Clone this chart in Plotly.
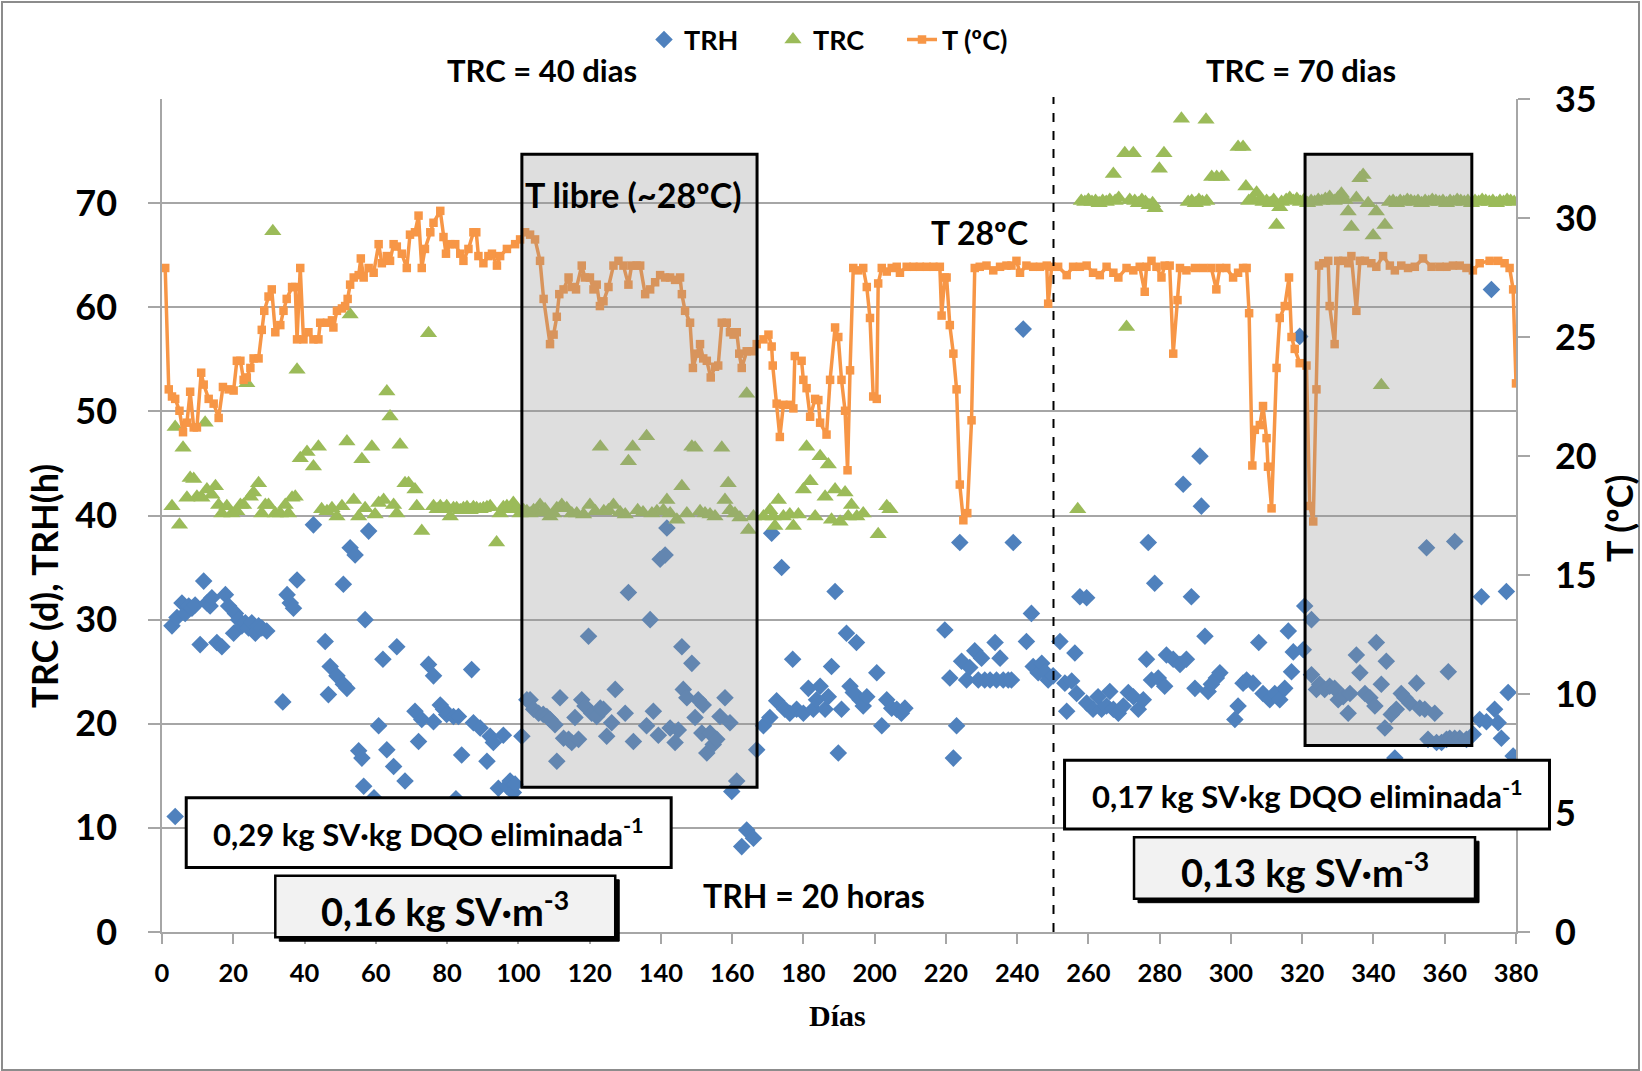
import plotly.graph_objects as go

# ---------------- DATA ----------------
# TRH (h) - blue diamonds
trh_day = [2.8, 3.7, 4.2, 5.6, 6.5, 7.5, 8.4, 9.3, 10.7, 11.7, 12.6, 13.5, 14.0, 15.4, 16.8, 17.8, 18.7,
           20.1, 20.6, 21.5, 22.4, 23.4, 24.3, 25.2, 26.2, 27.1, 28.0, 29.4, 33.9, 35.1, 36.0, 36.9, 37.9,
           42.5, 45.8, 46.7, 47.2, 49.1, 50.9, 50.9, 51.9, 52.8, 54.2, 55.2, 56.1, 56.6, 57.0, 58.0, 59.5,
           60.8, 62.0, 63.1, 65.0, 65.9, 68.2, 71.0, 72.0, 72.9, 74.8, 76.2, 76.2, 78.1, 79.0, 79.9, 81.8,
           82.5, 83.2, 84.1, 86.9, 87.4, 89.3, 91.2, 92.1, 93.0, 94.4, 95.8, 96.8, 97.7, 98.6, 99.1,
           101.0, 102.4, 103.3, 104.3, 105.7, 107.0, 108.0, 108.9, 110.3, 110.8, 111.7, 112.7, 114.1, 115.0,
           115.9, 116.9, 117.8, 118.7, 119.7, 120.6, 122.0, 123.0, 123.9, 124.8, 126.2, 127.2, 130.0, 130.9,
           132.3, 136.0, 137.0, 137.9, 139.3, 139.8, 141.2, 141.7, 142.6, 144.0, 144.9, 145.9, 146.3, 147.3,
           148.7, 149.6, 150.5, 151.5, 151.9, 152.9, 153.8, 154.7, 155.7, 156.6, 158.0, 159.4, 159.9, 161.3,
           162.7, 164.1, 166.0, 166.9, 168.8, 170.6, 171.1, 172.5, 173.9, 174.8, 176.2, 177.0, 178.1, 180.0,
           181.4, 182.8, 183.7, 184.7, 186.1, 187.0, 187.9, 188.9, 189.8, 190.7, 192.1, 193.1, 194.0, 194.9,
           195.9, 196.8, 197.8, 200.6, 202.0, 203.4, 204.8, 206.2, 207.5, 208.5,
           219.7, 221.1, 222.1, 223.0, 223.9, 224.4, 225.8, 226.7, 228.1, 229.1, 230.0, 230.9, 232.4, 233.8,
           234.2, 235.2, 236.1, 237.5, 238.4, 238.9, 241.7, 242.6, 244.0, 244.5, 245.9, 246.9, 247.8, 248.7,
           250.1, 252.0, 253.4, 253.9, 255.3, 256.2, 256.7, 257.6, 259.5, 259.5, 261.3, 262.7, 263.7, 265.1,
           266.0, 267.0, 268.4, 269.8, 271.2, 272.6, 274.0, 275.4, 276.3, 276.8, 277.7, 278.6, 279.6, 281.4,
           281.9, 283.8, 285.7, 286.6, 287.5, 288.9, 289.9, 291.3, 291.7, 292.7, 293.6, 294.5, 295.9, 296.9,
           301.1, 302.0, 303.4, 304.4, 306.2, 307.8, 309.0, 310.9, 312.3, 313.7, 315.1, 316.1, 317.0, 317.5,
           319.3, 320.3, 320.7, 322.6, 322.6, 324.0, 324.9, 326.3, 327.7, 329.1, 330.1, 331.5, 332.9, 333.4,
           335.2, 336.2, 337.6, 339.0, 340.4, 340.8, 342.2, 343.2, 343.6, 345.0, 346.0, 346.4, 347.8, 348.8,
           350.2, 352.1, 353.0, 354.4, 354.9, 355.3, 357.2, 357.7, 359.1, 360.5, 361.0, 361.4, 362.8, 362.8,
           364.2, 366.1, 368.0, 369.8, 370.3, 371.7, 373.1, 374.0, 375.0, 375.9, 377.3, 377.8, 379.2]
trh_val = [29.4, 11.1, 30.2, 31.6, 30.6, 31.3, 31.1, 31.4, 27.6, 33.7, 31.6, 31.3, 32.1, 27.8, 27.4, 32.4, 31.3,
           28.7, 30.6, 30.0, 29.4, 29.7, 29.2, 29.7, 28.7, 29.4, 29.2, 28.9, 22.1, 32.4, 31.6, 31.1, 33.8,
           39.1, 27.9, 22.8, 25.5, 24.6, 33.4, 23.8, 23.4, 36.9, 36.2, 17.4, 16.7, 14.0, 30.0, 38.5, 12.9,
           19.8, 26.2, 17.5, 15.9, 27.4, 14.5, 21.2, 18.3, 20.4, 25.7, 24.6, 20.2, 21.8, 21.4, 20.9, 20.7,
           12.8, 20.7, 17.0, 25.2, 20.1, 19.6, 16.4, 18.8, 18.2, 13.8, 18.9, 14.0, 14.5, 13.4, 14.2,
           18.8, 22.3, 22.3, 21.4, 21.0, 20.9, 20.7, 20.4, 19.9, 16.4, 22.5, 18.6, 18.5, 18.2,
           20.6, 18.5, 22.3, 21.7, 28.4, 21.0, 20.7, 21.5, 21.4, 18.8, 20.1, 23.3, 21.0, 32.6,
           18.3, 19.8, 30.0, 21.2, 18.9, 35.8, 36.2, 38.8, 19.6, 18.2, 19.4, 27.4, 23.3, 22.5,
           25.8, 20.6, 22.3, 19.1, 21.8, 17.2, 19.1, 18.0, 18.5, 20.7, 22.5, 20.1, 13.5, 14.5,
           8.2, 9.8, 9.0, 17.5, 19.8, 20.6, 38.3, 22.2, 35.0, 21.4, 21.0, 26.2, 21.4, 21.0,
           23.4, 21.4, 22.3, 23.6, 21.4, 22.6, 25.5, 32.7, 17.2, 21.4, 28.7, 23.6, 23.0, 27.8,
           22.3, 21.7, 22.6, 24.9, 19.8, 22.3, 21.5, 21.4, 21.0, 21.5,
           29.0, 24.4, 16.7, 19.8, 37.4, 26.0, 24.2, 25.4, 27.0, 24.2, 26.3, 24.2, 24.2, 27.8,
           24.2, 26.3, 24.2, 24.2, 24.2, 37.4, 57.9, 27.9, 30.6, 25.5, 24.9, 25.8, 25.0, 24.2,
           24.6, 27.9, 23.9, 21.2, 24.1, 26.8, 22.9, 32.2, 32.1, 22.0, 21.4, 22.6, 21.4, 21.7,
           23.1, 21.4, 21.0, 21.7, 23.0, 22.6, 21.4, 22.3, 26.2, 37.4, 24.2, 33.5, 24.4, 23.6,
           26.6, 26.2, 25.7, 43.0, 26.2, 32.2, 23.4, 45.7, 40.9, 28.4, 23.1, 23.8, 24.4, 24.9,
           20.4, 21.7, 23.9, 24.2, 23.9, 27.8, 22.9, 22.3, 22.9, 22.3, 23.4, 28.9, 25.0, 26.9,
           57.2, 27.1, 31.3, 30.0, 24.7, 23.3, 23.8, 23.3, 23.6, 23.4, 22.3, 22.6, 21.0, 22.9,
           26.6, 24.9, 22.9, 22.5, 21.7, 27.8, 23.8, 19.6, 26.0, 20.9, 16.7, 21.4, 22.9, 22.5,
           22.0, 23.9, 21.5, 21.4, 36.9, 18.5, 21.0, 18.2, 18.2, 18.5, 25.0, 18.6, 18.6, 37.5,
           18.6, 18.5, 19.0, 20.4, 32.2, 20.2, 61.7, 21.4, 20.1, 18.6, 32.7, 23.0, 16.9]

# TRC (d) - green triangles
trc_day = [2.8, 3.7, 4.9, 5.9, 7.0, 7.9, 8.9, 9.8, 11.2, 12.1, 12.6, 14.0, 15.0, 15.9, 16.8, 18.2, 19.6,
           21.0, 22.0, 22.9, 23.8, 24.8, 25.7, 27.1, 28.0, 29.0, 29.9, 31.1, 31.8, 33.2, 34.6, 35.5, 36.5,
           37.4, 37.9, 38.8, 40.7, 42.5, 43.9, 44.8, 46.3, 47.7, 49.1, 50.5, 51.9, 52.8, 53.8, 55.2, 56.1,
           57.0, 58.9, 59.8, 60.8, 62.2, 63.1, 64.0, 65.0, 65.9, 66.8, 68.2, 69.2, 71.0, 71.5, 72.9, 74.8,
           76.2, 77.2, 78.1, 79.0, 79.9, 80.9, 81.8, 82.7, 83.7, 84.6, 85.6, 86.5, 87.4, 88.3, 89.3, 90.2,
           91.2, 92.1, 93.9, 94.9, 95.8, 96.8, 97.7, 98.6, 99.6, 100.5, 101.5, 102.4, 103.3, 104.3, 105.2,
           106.1, 107.1, 107.5, 108.9, 109.9, 110.8, 112.2, 113.6, 115.0, 116.4, 118.3, 120.1, 121.6, 123.0,
           124.0, 125.3, 126.7, 128.6, 130.0, 130.9, 132.1, 133.5, 135.0, 136.0, 137.5, 138.9, 140.7, 141.7,
           142.6, 144.5, 145.9, 147.3, 148.7, 149.6, 151.0, 152.4, 153.8, 155.2, 157.1, 158.0, 158.9, 159.4,
           160.8, 162.2, 164.1, 164.6, 166.0, 168.8, 170.6, 171.5, 172.0, 173.0, 174.4, 176.2, 177.2, 178.6,
           180.0, 180.9, 181.9, 183.3, 184.7, 186.1, 187.0, 187.9, 188.9, 190.3, 191.7, 192.6, 193.5, 195.0,
           196.8, 201.0, 203.4, 204.3,
           257.0, 258.0, 259.0, 260.0, 261.0, 262.0, 263.0, 264.0, 265.0, 266.0, 267.0, 267.5, 268.5, 270.2,
           270.7, 271.6, 272.6, 273.0, 274.0, 275.0, 276.0, 277.0, 278.0, 278.7, 279.9, 281.2, 286.1, 288.0,
           289.0, 290.0, 291.0, 292.0, 293.0, 293.2, 294.6, 296.0, 297.4, 302.0, 303.4, 304.2, 305.0, 306.0,
           307.2, 308.0, 309.0, 310.0, 311.0, 312.0, 312.8, 313.7, 314.2, 315.5, 316.5, 317.5, 318.5, 319.5,
           320.5, 321.5, 322.5, 323.5, 324.5, 325.5, 326.5, 327.7, 329.0, 330.0, 331.0, 332.0, 332.9, 333.8,
           335.2, 336.2, 337.1, 338.5, 339.9, 340.8, 342.2, 343.2, 344.5, 345.5, 346.5, 347.5, 348.5, 349.5,
           350.5, 351.5, 352.5, 353.5, 354.5, 355.5, 356.5, 357.5, 358.5, 359.5, 360.5, 361.5, 362.5, 363.5,
           364.5, 365.5, 366.5, 367.5, 368.5, 369.5, 370.5, 371.5, 372.5, 373.5, 374.5, 375.5, 376.5, 377.5,
           378.5, 379.5]
trc_val = [40.9, 48.5, 39.1, 46.5, 41.7, 43.6, 43.5, 41.8, 41.7, 48.9, 42.5, 42.0, 42.8, 41.0, 40.2, 40.9, 40.2,
           40.4, 41.0, 41.0, 52.7, 41.8, 42.2, 43.1, 40.2, 41.0, 41.0, 67.3, 40.2, 40.2, 41.0, 40.2, 41.7,
           41.8, 54.0, 45.5, 46.1, 44.7, 46.6, 40.6, 40.4, 40.7, 39.9, 40.9, 47.1, 59.3, 41.5, 39.9, 45.4,
           40.7, 46.6, 40.1, 41.2, 41.5, 51.9, 49.5, 41.0, 40.2, 46.8, 43.1, 43.1, 42.5, 40.9, 38.5, 57.5,
           40.9, 40.6, 40.9, 40.6, 40.9, 39.9, 40.7, 40.7, 40.5, 40.7, 40.8, 40.5, 40.8, 40.7, 40.6, 40.7,
           40.8, 40.9, 37.4, 40.2, 40.8, 40.9, 40.6, 41.2, 40.7, 40.2, 40.5, 40.4, 40.2, 40.5, 40.3,
           41.0, 40.4, 40.6, 39.9, 40.2, 40.7, 41.0, 40.7, 40.2, 40.2, 40.1, 41.0, 40.4, 46.6,
           40.4, 40.5, 41.0, 40.3, 40.1, 45.2, 46.6, 40.5, 40.3, 47.6, 40.2, 40.4, 40.5, 41.5,
           40.2, 39.6, 42.8, 40.2, 46.6, 46.5, 40.4, 40.2, 40.1, 39.9, 46.5, 41.5, 43.1, 40.5,
           40.2, 39.8, 51.7, 38.6, 39.9, 39.9, 40.5, 39.9, 39.0, 41.5, 39.9, 40.1, 39.0, 40.1,
           42.5, 46.6, 43.3, 39.9, 45.7, 41.8, 44.9, 39.6, 42.5, 39.4, 42.2, 39.9, 41.0, 39.9,
           40.2, 38.2, 40.9, 40.6,
           40.6, 70.2, 70.1, 70.3, 70.1, 70.2, 70.0, 70.2, 70.1, 70.3, 72.8, 70.2, 70.5, 74.8,
           58.1, 70.3, 74.8, 70.2, 70.0, 70.3, 70.1, 69.8, 70.0, 69.5, 73.3, 74.8, 78.1, 70.1,
           70.2, 70.0, 70.3, 70.1, 78.0, 70.2, 72.5, 72.5, 72.5, 75.4, 75.4, 71.6, 70.2, 70.4,
           71.0, 70.3, 70.1, 70.2, 70.0, 70.3, 67.9, 69.6, 70.1, 70.3, 70.5, 70.2, 70.4, 70.1,
           70.3, 70.0, 70.2, 70.1, 70.3, 70.2, 70.4, 70.6, 70.2, 70.5, 70.9, 70.3, 69.2, 67.7,
           70.5, 72.4, 72.7, 70.0, 66.9, 69.2, 52.5, 67.9, 70.1, 70.2, 70.0, 70.2, 70.1, 70.3,
           70.2, 70.1, 70.2, 70.0, 70.2, 70.1, 70.3, 70.2, 70.1, 70.2, 70.0, 70.2, 70.1, 70.3,
           70.2, 70.1, 70.2, 70.0, 70.2, 70.1, 70.3, 70.2, 70.1, 70.2, 70.0, 70.2, 70.1, 70.3,
           70.2, 70.1]

# T (ºC) - orange line with squares (right axis)
t_day = [0.9, 1.9, 2.8, 3.7, 4.9, 5.9, 7.0, 7.9, 8.9, 9.8, 11.0, 11.7, 13.1, 14.5, 15.9, 17.1, 18.7, 20.1,
         21.0, 22.0, 22.9, 23.8, 24.8, 25.7, 27.1, 28.0, 28.7, 29.9, 30.8, 31.8, 33.2, 34.1, 35.0, 36.5,
         37.4, 37.9, 38.8, 39.7, 41.1, 42.5, 43.9, 44.4, 46.3, 47.7, 48.1, 49.1, 50.5, 51.4, 52.1, 52.8,
         53.8, 55.2, 55.8, 56.6, 58.0, 59.4, 60.8, 61.7, 63.1, 64.0, 65.0, 65.9, 67.3, 68.7, 69.6, 71.0,
         72.0, 72.9, 73.8, 75.3, 76.2, 78.1, 79.0, 79.7, 80.9, 82.3, 83.7, 84.6, 86.0, 87.4, 88.2, 88.8,
         90.2, 91.6, 92.6, 94.0, 94.9, 96.8, 99.1, 100.5, 101.9, 103.3, 104.7, 106.1, 107.1, 108.9, 109.9,
         110.8, 111.5, 112.7, 114.1, 115.0, 116.2, 117.8, 118.7, 120.1, 121.1, 122.0, 122.9, 123.9, 125.3,
         126.7, 128.1, 129.5, 130.9, 131.8, 133.2, 134.2, 135.6, 137.0, 138.4, 139.8, 141.2, 142.6, 144.0,
         145.4, 145.9, 146.8, 148.2, 149.0, 150.1, 151.0, 151.9, 152.9, 154.0, 155.2, 156.1, 157.1, 158.5,
         159.4, 160.4, 161.3, 162.0, 162.7, 164.1, 165.5, 166.9, 168.8, 170.2, 171.1, 171.4, 172.5, 173.4,
         174.4, 176.2, 177.2, 177.6, 179.5, 180.0, 180.9, 181.9, 183.3, 184.2, 184.7, 186.5, 187.5, 188.9,
         189.8, 190.7, 191.7, 192.4, 193.1, 194.0, 195.4, 196.8, 197.8, 198.7, 199.6, 200.6, 201.0, 202.0,
         203.4, 204.8, 206.2, 207.1, 209.0, 210.9, 212.7, 214.6, 216.5, 218.3, 218.8, 219.7, 220.2, 221.1,
         222.1, 223.0, 223.9, 224.9, 226.0, 227.2, 228.1, 229.5, 231.4, 233.3, 235.2, 237.0, 238.4, 239.8,
         240.8, 242.6, 244.5, 246.4, 248.3, 248.7, 249.7, 251.5, 253.9, 255.7, 257.6, 259.5, 261.3, 263.2,
         265.1, 267.0, 268.4, 270.7, 272.6, 274.4, 275.8, 276.3, 277.7, 279.1, 280.5, 281.4, 282.8, 283.8,
         285.0, 285.7, 287.5, 289.9, 292.2, 294.5, 295.9, 296.9, 298.7, 300.6, 302.0, 303.4, 304.4, 305.1,
         306.0, 306.7, 308.1, 309.0, 310.0, 310.4, 311.4, 312.8, 313.7, 315.1, 316.3, 317.0, 317.9, 319.3,
         321.2, 322.1, 323.1, 324.0, 324.7, 325.9, 327.3, 327.7, 329.1, 330.1, 331.5, 332.9, 333.8, 335.2,
         336.2, 337.6, 339.4, 340.8, 342.7, 344.6, 346.0, 347.8, 349.7, 351.6, 353.9, 356.3, 358.6, 360.5,
         362.3, 364.2, 366.1, 367.9, 369.8, 372.6, 375.0, 376.8, 378.2, 379.2, 380.0]
t_val = [27.9, 22.8, 22.5, 22.4, 21.9, 21.0, 21.4, 22.7, 21.2, 21.2, 23.5, 23.0, 22.4, 22.2, 21.6, 22.9, 22.8, 22.75,
         24.0, 24.0, 23.2, 23.3, 23.7, 24.1, 24.1, 25.3, 26.1, 26.7, 27.0, 25.2, 25.5, 26.1, 26.6, 27.1,
         27.1, 24.9, 27.9, 24.9, 25.2, 24.9, 24.9, 25.6, 25.6, 25.7, 25.4, 26.1, 26.2, 26.3, 26.6, 27.2,
         27.5, 27.6, 28.3, 27.5, 27.9, 27.7, 28.9, 28.1, 28.4, 28.2, 28.9, 28.8, 28.5, 27.9, 29.3, 29.4,
         30.1, 27.9, 28.7, 29.4, 29.8, 30.3, 29.2, 28.5, 28.9, 28.9, 28.5, 28.2, 28.7, 29.4, 29.4, 28.4,
         28.1, 28.4, 28.5, 28.0, 28.4, 28.7, 28.9, 29.1, 29.4, 29.3, 29.1, 28.2, 26.6, 24.7, 25.1,
         25.85, 26.8, 27.0, 27.5, 27.1, 27.0, 28.0, 27.5, 27.5, 27.0, 27.2, 26.3, 26.5, 27.1,
         28.0, 28.2, 28.0, 27.2, 28.0, 28.0, 28.0, 26.8, 27.0, 27.3, 27.6, 27.5, 27.5, 27.4,
         27.5, 26.8, 26.1, 25.6, 23.7, 24.3, 24.7, 24.1, 24.0, 23.3, 23.75, 23.8, 25.6, 25.6,
         25.2, 25.1, 25.2, 24.3, 23.7, 24.4, 24.4, 24.7, 24.9, 25.1, 24.6, 23.8, 22.2, 20.8,
         22.15, 22.15, 22.0, 24.2, 24.0, 23.2, 22.85, 21.65, 22.4, 22.35, 21.4, 20.9, 23.2, 25.4,
         25.0, 23.2, 21.9, 19.4, 23.6, 27.9, 27.8, 27.9, 27.1, 25.8, 22.5, 22.4, 27.25, 27.9,
         27.75, 27.9, 27.95, 27.7, 27.95, 27.95, 27.95, 27.95, 27.95, 27.95, 25.9, 27.5, 27.5, 25.5,
         24.3, 22.8, 18.8, 17.3, 17.6, 21.5, 27.9, 27.95, 28.0, 27.8, 27.95, 28.0, 28.0, 28.2,
         27.7, 28.0, 27.95, 27.95, 28.0, 26.4, 27.95, 27.95, 27.6, 27.95, 27.95, 28.0, 27.7, 27.6,
         27.95, 27.7, 27.5, 27.9, 27.8, 27.95, 26.9, 27.95, 28.2, 27.95, 27.5, 28.0, 28.0, 24.3,
         26.55, 27.9, 27.8, 27.9, 27.9, 27.9, 27.0, 27.9, 27.9, 27.5, 27.7, 27.9, 27.9, 26.0,
         19.6, 21.1, 21.3, 22.1, 20.75, 19.55, 17.8, 23.7, 25.8, 26.3, 27.5, 25.0, 24.5, 23.9,
         23.8, 17.9, 17.25, 22.8, 28.0, 28.1, 28.2, 26.3, 24.7, 28.2, 28.2, 28.1, 28.4, 26.1,
         28.2, 28.2, 28.1, 27.95, 28.4, 28.0, 27.8, 28.0, 27.9, 27.95, 28.3, 27.95, 27.95, 27.95,
         28.0, 28.0, 27.9, 27.8, 28.1, 28.2, 28.2, 28.1, 27.9, 27.0, 23.05]

x_ticks = list(range(0, 381, 20))
y_ticks = list(range(0, 71, 10))
t_ticks = list(range(0, 36, 5))
X_MAX, Y_MAX, T_MAX = 380, 80, 35
split_day = 250.2
arrow_level = 80.2

# annotation boxes: (day0, day1, val0, val1)
free_box = (101.0, 167.0, 13.9, 74.7)
ctrl_box = (320.8, 367.6, 17.9, 74.7)
box_a = (6.8, 142.9, 6.2, 12.9)
box_b = (31.8, 127.2, -0.5, 5.4)
box_c = (253.3, 389.4, 9.9, 16.5)
box_d = (272.8, 368.5, 3.2, 9.1)

# ---------------- FIGURE ----------------
BLUE, GREEN, ORANGE = "#4F81BD", "#9BBB59", "#F79646"
FONT = "Lato"
W, H = 1642, 1071
ML, MR, MT, MB = 162, 126, 99, 139
PW, PH = W - ML - MR, H - MT - MB


def b(s):
    return "<b>" + s + "</b>"


fig = go.Figure()
fig.add_trace(go.Scatter(x=trh_day, y=trh_val, mode="markers", name=b("TRH"),
                         marker=dict(symbol="diamond", size=13.5, color=BLUE)))
fig.add_trace(go.Scatter(x=trc_day, y=trc_val, mode="markers", name=b("TRC"),
                         marker=dict(symbol="triangle-up", size=15, color=GREEN)))
fig.add_trace(go.Scatter(x=t_day, y=t_val, mode="lines+markers", name=b("T (ºC)"), yaxis="y2",
                         line=dict(color=ORANGE, width=3.5),
                         marker=dict(symbol="square", size=8.5, color=ORANGE)))


def px(d):
    return d / X_MAX


def py(v):
    return v / Y_MAX


shapes = []
# figure frame
shapes.append(dict(type="rect", xref="paper", yref="paper",
                   x0=(2 - ML) / PW, x1=(W - 3 - ML) / PW,
                   y0=(MT + PH - (H - 1)) / PH, y1=(MT + PH - 2) / PH,
                   line=dict(color="#8c8c8c", width=2), fillcolor="rgba(0,0,0,0)", layer="below"))
# dashed split line
shapes.append(dict(type="line", xref="paper", yref="paper", x0=px(split_day), x1=px(split_day),
                   y0=0, y1=py(arrow_level), line=dict(color="black", width=2, dash="dash"), layer="above"))
# grey highlight boxes
for bx in (free_box, ctrl_box):
    shapes.append(dict(type="rect", xref="paper", yref="paper", x0=px(bx[0]), x1=px(bx[1]),
                       y0=py(bx[2]), y1=py(bx[3]), fillcolor="rgba(145,145,145,0.30)",
                       line=dict(color="black", width=3), layer="above"))
# white text boxes
for bx in (box_a, box_c):
    shapes.append(dict(type="rect", xref="paper", yref="paper", x0=px(bx[0]), x1=px(bx[1]),
                       y0=py(bx[2]), y1=py(bx[3]), fillcolor="white",
                       line=dict(color="black", width=3), layer="above"))
# grey boxes with shadow
sx, sy = 4 / PW, 4 / PH
for bx in (box_b, box_d):
    shapes.append(dict(type="rect", xref="paper", yref="paper", x0=px(bx[0]) + sx, x1=px(bx[1]) + sx,
                       y0=py(bx[2]) - sy, y1=py(bx[3]) - sy, fillcolor="black",
                       line=dict(color="black", width=1), layer="above"))
    shapes.append(dict(type="rect", xref="paper", yref="paper", x0=px(bx[0]), x1=px(bx[1]),
                       y0=py(bx[2]), y1=py(bx[3]), fillcolor="#f2f2f2",
                       line=dict(color="black", width=2.5), layer="above"))

ann = []


def text(x, y, s, size, xref="x", yref="y", family=FONT, **kw):
    ann.append(dict(x=x, y=y, xref=xref, yref=yref, text=b(s), showarrow=False,
                    xanchor="center", yanchor="middle",
                    font=dict(size=size, family=family, color="black"), **kw))


text(132.4, 70.8, "T libre (~28ºC)", 34)
text(229.3, 67.2, "T 28ºC", 32)
text(182.9, 3.5, "TRH = 20 horas", 32)
text((box_a[0] + box_a[1]) / 2, (box_a[2] + box_a[3]) / 2, "0,29 kg SV·kg DQO eliminada<sup>-1</sup>", 31)
text((box_b[0] + box_b[1]) / 2, (box_b[2] + box_b[3]) / 2 - 0.2, "0,16 kg SV·m<sup>-3</sup>", 38)
text(px((box_c[0] + box_c[1]) / 2), py((box_c[2] + box_c[3]) / 2), "0,17 kg SV·kg DQO eliminada<sup>-1</sup>", 31,
     xref="paper", yref="paper")
text((box_d[0] + box_d[1]) / 2, (box_d[2] + box_d[3]) / 2 - 0.2, "0,13 kg SV·m<sup>-3</sup>", 38)
text(0.281, 1.035, "TRC = 40 dias", 31, xref="paper", yref="paper")
text(0.8415, 1.035, "TRC = 70 dias", 31, xref="paper", yref="paper")
text(-0.087, 0.4157, "TRC (d), TRH(h)", 36, xref="paper", yref="paper", textangle=-90)
text(1.076, 0.497, "T (ºC)", 36, xref="paper", yref="paper", textangle=-90)
text(0.499, -0.0999, "Días", 30, xref="paper", yref="paper", family="Liberation Serif")

# double arrows
for a0, a1 in ((0, split_day), (split_day, X_MAX)):
    ann.append(dict(x=a1, y=arrow_level, ax=a0, ay=arrow_level, xref="x", yref="y", axref="x", ayref="y",
                    text="", showarrow=True, arrowside="end+start", arrowhead=2, arrowsize=1.4,
                    arrowwidth=2.2, arrowcolor="black", standoff=0, startstandoff=0))

fig.update_layout(
    width=W, height=H, autosize=False,
    margin=dict(l=ML, r=MR, t=MT, b=MB, pad=0),
    paper_bgcolor="white", plot_bgcolor="white",
    shapes=shapes, annotations=ann,
    showlegend=True,
    legend=dict(orientation="h", x=(644 - ML) / PW, xanchor="left", y=1.071, yanchor="middle",
                font=dict(size=27, family=FONT, color="black"), bgcolor="rgba(0,0,0,0)",
                itemwidth=30, entrywidth=84, entrywidthmode="pixels"),
    xaxis=dict(range=[0, X_MAX], tickvals=x_ticks, ticktext=[b(str(v)) for v in x_ticks],
               showgrid=False, zeroline=False,
               showline=True, linecolor="#a6a6a6", linewidth=1.5,
               ticks="outside", ticklen=10, tickcolor="#a6a6a6", tickwidth=1.5,
               ticklabelstandoff=8, tickfont=dict(size=25.5, family=FONT, color="black")),
    yaxis=dict(range=[0, Y_MAX], tickvals=y_ticks, ticktext=[b(str(v)) for v in y_ticks],
               showgrid=True, gridcolor="#a6a6a6", gridwidth=1.5,
               zeroline=False, showline=True, linecolor="#a6a6a6", linewidth=1.5,
               ticks="outside", ticklen=12, tickcolor="#a6a6a6", tickwidth=1.5,
               ticklabelstandoff=24, tickfont=dict(size=36, family=FONT, color="black")),
    yaxis2=dict(range=[0, T_MAX], tickvals=t_ticks, ticktext=[b(str(v)) for v in t_ticks],
                overlaying="y", side="right", showgrid=False,
                zeroline=False, showline=True, linecolor="#a6a6a6", linewidth=1.5,
                ticks="outside", ticklen=12, tickcolor="#a6a6a6", tickwidth=1.5,
                ticklabelstandoff=18, tickfont=dict(size=36, family=FONT, color="black")),
)

fig.write_html("out.html", config={"displayModeBar": False},
               post_script="document.body.style.margin='0';")
